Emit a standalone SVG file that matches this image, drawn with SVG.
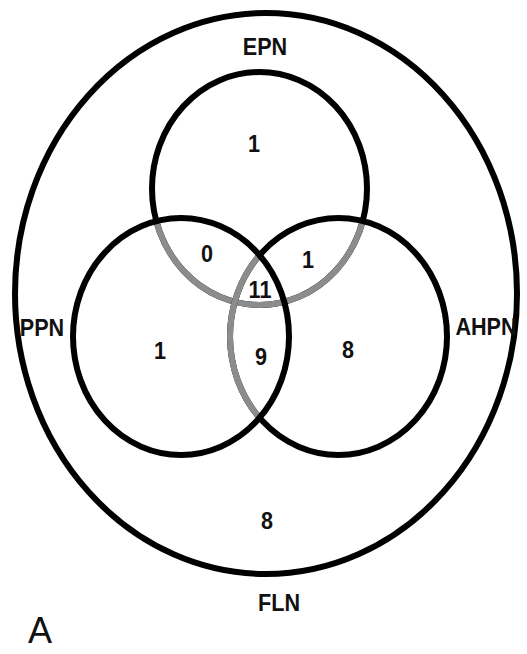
<svg xmlns="http://www.w3.org/2000/svg" width="527" height="654" viewBox="0 0 527 654">
<style>
.c{fill:none;stroke:#000;stroke-width:6}
.g{fill:none;stroke:#8c8c8c;stroke-width:6}
.t{font-family:"Liberation Sans",Arial,sans-serif;font-weight:bold;font-size:24px;text-anchor:middle;fill:#111}
.a{font-family:"Liberation Sans",Arial,sans-serif;font-size:36px;text-anchor:middle;fill:#111}
</style>
<defs>
<clipPath id="inPA"><ellipse cx="181" cy="336.5" rx="108" ry="118.5"/><ellipse cx="338.5" cy="336.5" rx="108.5" ry="118.5"/></clipPath>
<clipPath id="inP"><ellipse cx="181" cy="336.5" rx="108" ry="118.5"/></clipPath>
</defs>
<rect width="527" height="654" fill="#fff"/>
<g id="FLN"><ellipse class="c" cx="266" cy="293.5" rx="251" ry="280.5"/><text class="t" transform="translate(279,611) scale(0.9,1)">FLN</text><text class="t" transform="translate(267,529) scale(0.9,1)">8</text></g>
<g id="EPN"><ellipse class="c" cx="259.5" cy="188.5" rx="107.5" ry="116.5"/><ellipse class="g" cx="259.5" cy="188.5" rx="107.5" ry="116.5" clip-path="url(#inPA)"/><text class="t" transform="translate(265,55) scale(0.9,1)">EPN</text><text class="t" transform="translate(254,152) scale(0.9,1)">1</text></g>
<g id="AHPN"><ellipse class="c" cx="338.5" cy="336.5" rx="108.5" ry="118.5"/><ellipse class="g" cx="338.5" cy="336.5" rx="108.5" ry="118.5" clip-path="url(#inP)"/><text class="t" transform="translate(486,335) scale(0.9,1)">AHPN</text><text class="t" transform="translate(348,358) scale(0.9,1)">8</text></g>
<g id="PPN"><ellipse class="c" cx="181" cy="336.5" rx="108" ry="118.5"/><text class="t" transform="translate(42,336) scale(0.9,1)">PPN</text><text class="t" transform="translate(160,359) scale(0.9,1)">1</text></g>
<g id="overlaps"><text class="t" transform="translate(207,262) scale(0.9,1)">0</text><text class="t" transform="translate(308,268) scale(0.9,1)">1</text><text class="t" transform="translate(260,298) scale(0.9,1)">11</text><text class="t" transform="translate(261,365) scale(0.9,1)">9</text></g>
<text class="a" x="40" y="643">A</text>
</svg>
